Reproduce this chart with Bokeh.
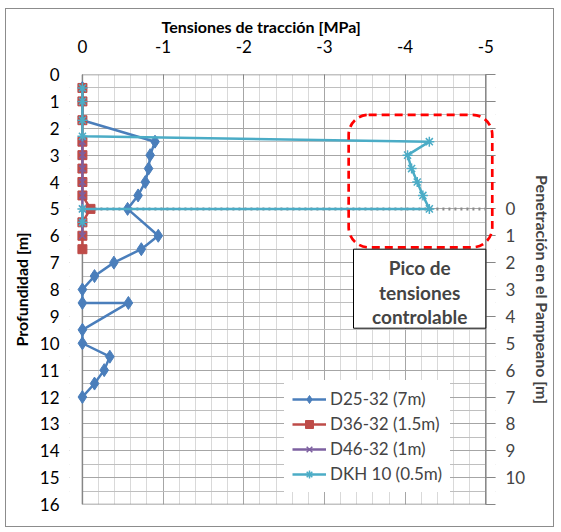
from bokeh.plotting import figure
from bokeh.models import (Range1d, LinearAxis, SingleIntervalTicker, FixedTicker,
                          BoxAnnotation, Label, Legend, LegendItem, Title)
from bokeh.embed import file_html
from bokeh.resources import INLINE

# ---- data ----
d25_x = [0, 0, 0, -0.9, -0.84, -0.82, -0.78, -0.69, -0.56, -0.94, -0.73, -0.39, -0.15, 0, 0, -0.57, 0, 0, -0.34, -0.27, -0.15, 0]
d25_y = [0.5, 1.0, 1.7, 2.5, 3.0, 3.5, 4.0, 4.5, 5.0, 6.0, 6.5, 7.0, 7.5, 8.0, 8.5, 8.5, 9.5, 10.0, 10.5, 11.0, 11.5, 12.0]

d36_x = [0, 0, 0, 0, 0, 0, 0, 0, -0.1, 0, 0, 0]
d36_y = [0.5, 1.0, 1.7, 2.5, 3.0, 3.5, 4.0, 4.5, 5.0, 5.5, 6.0, 6.5]

d46_x = [0, 0, 0, 0, 0, 0, 0, 0]
d46_y = [2.5, 3.0, 3.5, 4.0, 4.5, 5.0, 5.5, 6.0]

dkh_x = [0, 0, 0, 0, -4.3, -4.03, -4.08, -4.15, -4.22, -4.3, 0, 0]
dkh_y = [0.5, 1.0, 1.7, 2.3, 2.5, 3.0, 3.5, 4.0, 4.5, 5.0, 5.0, 5.5]

ref_x = [0, -5]
ref_y = [5, 5]

x_ticks = [0, -1, -2, -3, -4, -5]
right_ticks = list(range(0, 11))

FONT = "Lato"
PAD = 0.16   # room left of x=0 so markers at 0 are not cut
RPAD = 0.12  # room right of x=-5 for the highlight box

p = figure(width=549, height=519, output_backend="svg", toolbar_location=None,
           x_range=Range1d(PAD, -5 - RPAD), y_range=Range1d(16, 0),
           x_axis_location="above",
           min_border_left=63, min_border_right=57, min_border_top=65, min_border_bottom=24)
p.margin = (8, 0, 0, 5)
p.styles = {"border": "1px solid #8c8c8c"}
p.outline_line_color = None
p.background_fill_color = "white"

p.title = Title(text="Tensiones de tracción [MPa]", align="left", offset=92,
                text_font=FONT, text_font_size="16px", text_font_style="bold",
                text_color="black", standoff=2)

# grids
p.xaxis.ticker = SingleIntervalTicker(interval=1, num_minor_ticks=5)
p.yaxis.ticker = SingleIntervalTicker(interval=1, num_minor_ticks=2)
p.xgrid.grid_line_color = "#a6a6a6"
p.xgrid.minor_grid_line_color = "#d9d9d9"
p.ygrid.grid_line_color = "#a6a6a6"
p.ygrid.minor_grid_line_color = "#bfbfbf"

# white strips outside 0..-5 and the plot-area frame
p.add_layout(BoxAnnotation(left=PAD, right=0, top=0, bottom=16, fill_color="white",
                           fill_alpha=1, line_alpha=0, level="underlay"))
p.add_layout(BoxAnnotation(left=-5, right=-5 - RPAD, top=0, bottom=16, fill_color="white",
                           fill_alpha=1, line_alpha=0, level="underlay"))
p.add_layout(BoxAnnotation(left=0, right=-5, top=0, bottom=16, fill_alpha=0,
                           line_color="#868686", line_alpha=1, line_width=1.5, level="underlay"))

for ax in (p.xaxis[0], p.yaxis[0]):
    ax.axis_line_color = None
    ax.minor_tick_line_color = None
    ax.major_label_text_font = FONT
    ax.major_label_text_font_size = "17px"
    ax.major_label_text_color = "black"
    ax.axis_label_text_font = FONT
    ax.axis_label_text_font_size = "16px"
    ax.axis_label_text_font_style = "bold"
    ax.axis_label_text_color = "black"

p.xaxis.major_tick_line_color = "#868686"
p.xaxis.major_tick_in = 5
p.xaxis.major_tick_out = 0
p.xaxis.major_label_standoff = 18
p.xaxis.major_label_overrides = {t: str(t) for t in x_ticks}

p.yaxis.axis_label = "Profundidad [m]"
p.yaxis.major_tick_line_color = None
p.yaxis.major_tick_in = 0
p.yaxis.major_tick_out = 0
p.yaxis.major_label_standoff = 6
p.yaxis.axis_label_standoff = 6

# right axis
p.extra_y_ranges = {"pen": Range1d(11, -5)}
rax = LinearAxis(y_range_name="pen", axis_label="Penetración en el Pampeano [m]",
                 ticker=FixedTicker(ticks=list(range(-5, 12))))
rax.major_label_overrides = {t: ("" if t not in right_ticks else str(t)) for t in range(-5, 12)}
rax.axis_line_color = None
rax.major_tick_line_color = "#868686"
rax.major_tick_line_width = 1
rax.major_tick_in = 10
rax.major_tick_out = 0
rax.minor_tick_line_color = None
rax.major_label_text_font = FONT
rax.major_label_text_font_size = "17px"
rax.major_label_standoff = 10
rax.axis_label_text_font = FONT
rax.axis_label_text_font_size = "16px"
rax.axis_label_text_font_style = "bold"
rax.axis_label_standoff = 5
p.add_layout(rax, "right")

# reference dotted line
p.line(ref_x, ref_y, line_color="#8c8c8c", line_width=3, line_dash="2 4")

BLUE = "#4a7ebb"
RED = "#be4b48"
PURPLE = "#7d60a0"
CYAN = "#4bacc6"

l1 = p.line(d25_x, d25_y, line_color=BLUE, line_width=2.5)
m1 = p.scatter(d25_x, d25_y, marker="diamond", size=13, fill_color=BLUE, line_color=BLUE)
l2 = p.line(d36_x, d36_y, line_color=RED, line_width=2.5)
m2 = p.scatter(d36_x, d36_y, marker="square", size=9, fill_color=RED, line_color=RED)
l3 = p.line(d46_x, d46_y, line_color=PURPLE, line_width=2.5)
m3 = p.scatter(d46_x, d46_y, marker="x", size=9, line_color=PURPLE, line_width=1.5)
l4 = p.line(dkh_x, dkh_y, line_color=CYAN, line_width=2.5)
m4 = p.scatter(dkh_x, dkh_y, marker="asterisk", size=10, line_color=CYAN, line_width=1.5)

legend = Legend(items=[
    LegendItem(label="D25-32 (7m)", renderers=[l1, m1]),
    LegendItem(label="D36-32 (1.5m)", renderers=[l2, m2]),
    LegendItem(label="D46-32 (1m)", renderers=[l3, m3]),
    LegendItem(label="DKH 10 (0.5m)", renderers=[l4, m4]),
], location=(215, 12))
legend.label_text_font = FONT
legend.label_text_font_size = "17px"
legend.glyph_width = 34
legend.glyph_height = 20
legend.label_height = 20
legend.spacing = 4
legend.label_standoff = 4
legend.padding = 8
legend.border_line_alpha = 0
legend.background_fill_color = "white"
legend.background_fill_alpha = 1
p.add_layout(legend, "center")

# highlight box
p.add_layout(BoxAnnotation(left=-3.3, right=-5.08, top=1.5, bottom=6.43,
                           fill_alpha=0, line_color="red", line_alpha=1, line_width=2.7,
                           line_dash="8 5", border_radius=20, level="overlay"))

p.add_layout(BoxAnnotation(left=-3.36, right=-5.0, top=6.5, bottom=9.44,
                           fill_color="white", fill_alpha=1, line_color="black", line_alpha=1,
                           line_width=1, level="overlay"))
for txt, yy in [("Pico de", 7.17), ("tensiones", 8.13), ("controlable", 9.0)]:
    p.add_layout(Label(x=-4.18, y=yy, text=txt, text_align="center", text_baseline="middle",
                       text_font=FONT, text_font_size="19px", text_font_style="bold",
                       level="overlay"))

open("out.html", "w").write(file_html(p, INLINE))
